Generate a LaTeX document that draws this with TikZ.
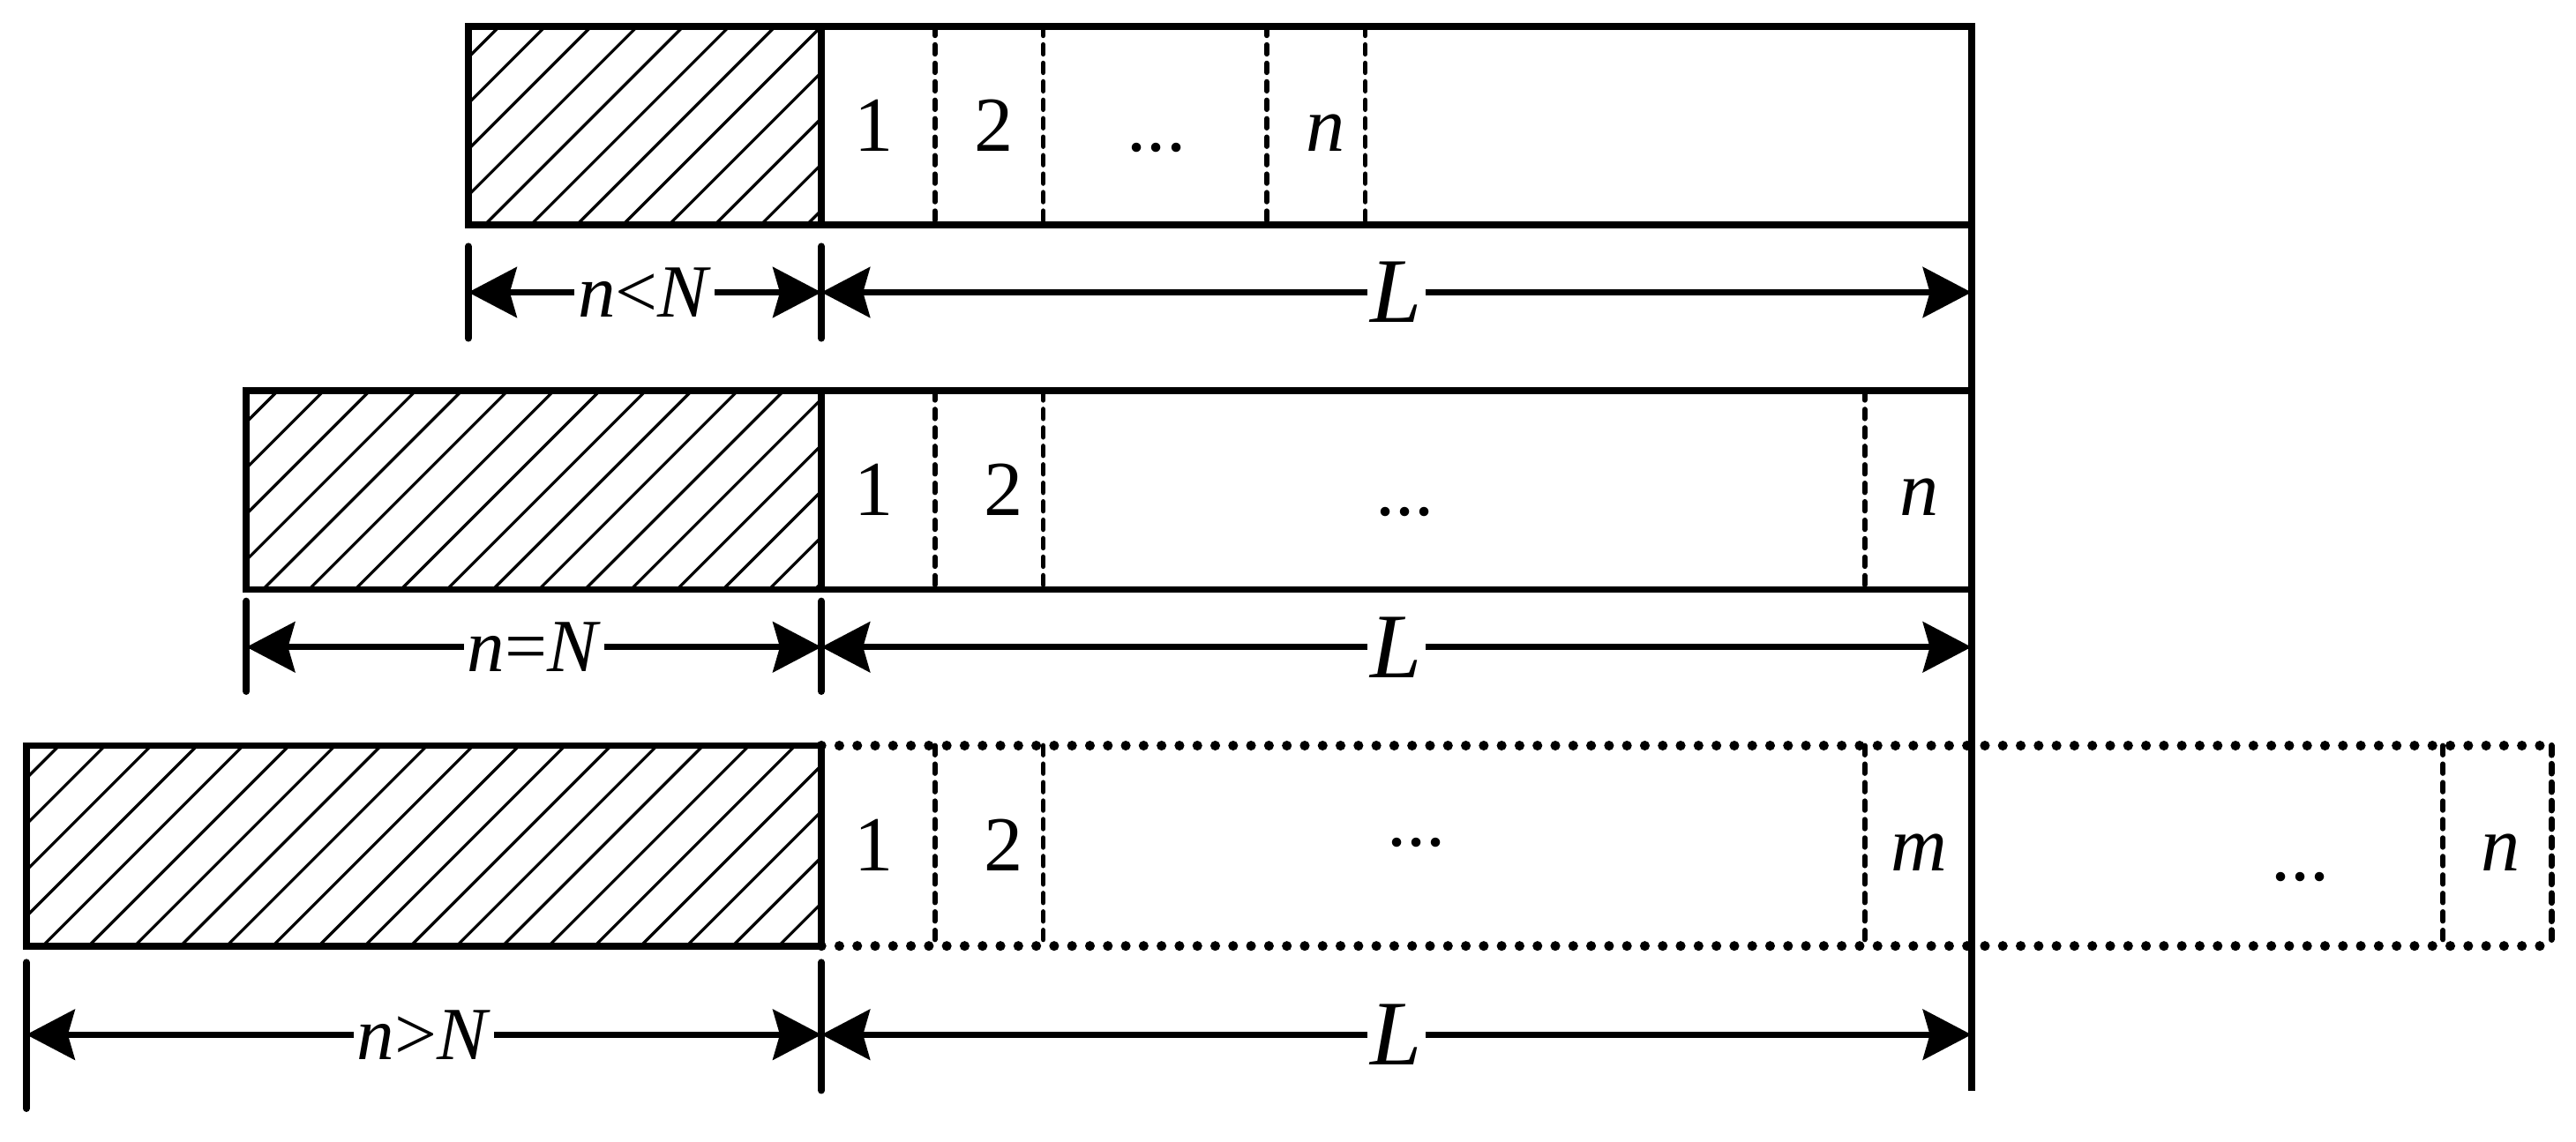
\documentclass[tikz,border=0pt]{standalone}
\usepackage{fontspec}
\setmainfont{Liberation Serif}
\usetikzlibrary{arrows.meta}

\begin{document}
\begin{tikzpicture}[x=1cm,y=-1cm,
  box/.style={line width=1.2pt},
  hatch/.style={line width=0.5pt},
  cell/.style={line width=0.9pt,dash pattern=on 1.6pt off 1.6pt,line cap=round},
  dotline/.style={line width=1.7pt,dash pattern=on 0pt off 3.1pt,line cap=round},
  tick/.style={line width=1.2pt,line cap=round},
  dim/.style={line width=1.1pt,{Stealth[length=8.4pt,width=8.7pt,inset=1.2pt]}-{Stealth[length=8.4pt,width=8.7pt,inset=1.2pt]}},
  lab/.style={fill=white,inner xsep=0.6pt,inner ysep=1pt,font=\fontsize{13}{15}\selectfont},
  len/.style={fill=white,inner xsep=0.6pt,inner ysep=1pt,font=\fontsize{16}{18}\selectfont\itshape},
  num/.style={anchor=base,inner sep=0pt,font=\fontsize{13.5}{15}\selectfont}]
\useasboundingbox (0,0) rectangle (15.68,6.95);

% hatched parts
\foreach \l/\t/\b in {2.85/0.16/1.37, 1.50/2.38/3.59, 0.16/4.54/5.76}{
  \begin{scope}
    \clip (\l,\t) rectangle (5,\b);
    \foreach \k in {0,...,24}
      \draw[hatch] ({\l-1.3+0.28*\k},\b) -- ++(1.4,-1.4);
  \end{scope}
}

% row 1: n<N
\draw[box] (2.85,0.16) rectangle (12,1.37);
\draw[box] (5,0.16) -- (5,1.37);
\foreach \x in {5.69,6.35,7.71,8.31}
  \draw[cell] (\x,0.16) -- (\x,1.37);
\node[num] (a1) at (5.32,0.92) {1};
\node[num] (a2) at (6.05,0.92) {2};
\node[num] (a3) at (7.04,0.92) {...};
\node[num] (a4) at (8.07,0.92) {\textit{n}};

% row 2: n=N
\draw[box] (1.50,2.38) rectangle (12,3.59);
\draw[box] (5,2.38) -- (5,3.59);
\foreach \x in {5.69,6.35,11.35}
  \draw[cell] (\x,2.38) -- (\x,3.59);
\node[num] (b1) at (5.32,3.14) {1};
\node[num] (b2) at (6.11,3.14) {2};
\node[num] (b3) at (8.55,3.14) {...};
\node[num] (b4) at (11.68,3.14) {\textit{n}};

% row 3: n>N
\draw[box] (0.16,4.54) rectangle (5,5.76);
\draw[dotline] (5,4.54) -- (15.53,4.54);
\draw[dotline] (5,5.76) -- (15.53,5.76);
\draw[cell,line width=1.1pt] (15.53,4.54) -- (15.53,5.76);
\foreach \x in {5.69,6.35,11.35,14.87}
  \draw[cell] (\x,4.54) -- (\x,5.76);
\node[num] (c1) at (5.32,5.30) {1};
\node[num] (c2) at (6.11,5.30) {2};
\node[num] (c3) at (8.62,5.15) {...};
\node[num] (c4) at (11.68,5.30) {\textit{m}};
\node[num] (c5) at (14.00,5.36) {...};
\node[num] (c6) at (15.22,5.30) {\textit{n}};

% common right edge
\coordinate (top) at (12,0.16);
\coordinate (bot) at (12,6.64);
\draw[box] (top) -- (bot);

% dimensions
\draw[tick] (2.85,1.50) -- (2.85,2.06);
\draw[tick] (5,1.50) -- (5,2.06);
\coordinate (p1) at (2.85,1.78);
\coordinate (q1) at (5,1.78);
\coordinate (r1) at (12,1.78);
\draw[dim] (p1) -- node[lab]{\textit{n}<\textit{N}} (q1);
\draw[dim] (q1) -- node[len]{L} (r1);

\draw[tick] (1.50,3.66) -- (1.50,4.21);
\draw[tick] (5,3.66) -- (5,4.21);
\coordinate (p2) at (1.50,3.94);
\coordinate (q2) at (5,3.94);
\coordinate (r2) at (12,3.94);
\draw[dim] (p2) -- node[lab]{\textit{n}=\textit{N}} (q2);
\draw[dim] (q2) -- node[len]{L} (r2);

\draw[tick] (0.16,5.86) -- (0.16,6.75);
\draw[tick] (5,5.86) -- (5,6.64);
\coordinate (p3) at (0.16,6.30);
\coordinate (q3) at (5,6.30);
\coordinate (r3) at (12,6.30);
\draw[dim] (p3) -- node[lab]{\textit{n}>\textit{N}} (q3);
\draw[dim] (q3) -- node[len]{L} (r3);
\end{tikzpicture}
\end{document}
